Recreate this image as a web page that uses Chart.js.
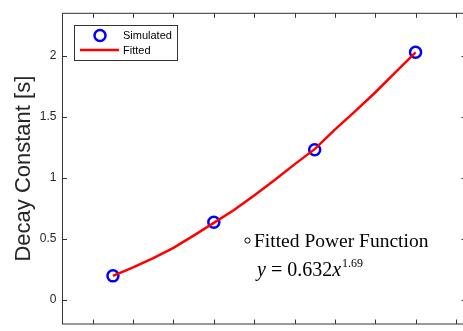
<!DOCTYPE html>
<html>
<head>
<meta charset="utf-8">
<script src="https://cdn.jsdelivr.net/npm/chart.js@4.4.1/dist/chart.umd.min.js"></script>
<style>
html, body { margin: 0; padding: 0; overflow: hidden; background: #fff; }
#wrap { width: 463px; height: 331px; overflow: hidden; }
canvas { display: block; }
</style>
</head>
<body>
<div id="wrap"><canvas id="decayChart" width="474" height="332"></canvas></div>
<script>
// values
const simX = [0.5, 1.0, 1.5, 2.0];
const simY = [0.195, 0.635, 1.23, 2.03];
const fitX = [0.5, 0.6, 0.7, 0.8, 0.9, 1.0, 1.1, 1.2, 1.3, 1.4, 1.5, 1.6, 1.7, 1.8, 1.9, 2.0];
const fitY = [0.195, 0.265, 0.34, 0.425, 0.525, 0.63, 0.735, 0.855, 0.98, 1.11, 1.235, 1.395, 1.545, 1.70, 1.865, 2.03];
const xTickValues = [0.4, 0.6, 0.8, 1.0, 1.2, 1.4, 1.6, 1.8, 2.0, 2.2];
const yTickValues = [0, 0.5, 1, 1.5, 2];
const yTitle = 'Decay Constant [s]';
const legendLabels = ['Simulated', 'Fitted'];
const noteTitle = 'Fitted Power Function';
const fitCoef = '0.632';
const fitExp = '1.69';

const axisColor = '#333333';
const textColor = '#262626';

// MATLAB style box with inward ticks on all four sides
const boxPlugin = {
    id: 'boxPlugin',
    afterDraw(chart) {
        const ctx = chart.ctx;
        const area = chart.chartArea;
        const xs = chart.scales.x;
        const ys = chart.scales.y;
        const len = 4.5;
        ctx.save();
        ctx.strokeStyle = axisColor;
        ctx.lineWidth = 1;
        ctx.strokeRect(area.left, area.top, area.right - area.left, area.bottom - area.top);
        ctx.beginPath();
        xs.ticks.forEach(t => {
            const px = Math.round(xs.getPixelForValue(t.value)) + 0.5;
            ctx.moveTo(px, area.bottom);
            ctx.lineTo(px, area.bottom - len);
            ctx.moveTo(px, area.top);
            ctx.lineTo(px, area.top + len);
        });
        ys.ticks.forEach(t => {
            const py = Math.round(ys.getPixelForValue(t.value)) + 0.5;
            ctx.moveTo(area.left, py);
            ctx.lineTo(area.left + len, py);
            ctx.moveTo(area.right, py);
            ctx.lineTo(area.right - len, py);
        });
        ctx.stroke();
        ctx.restore();
    }
};

const legendPlugin = {
    id: 'legendPlugin',
    afterDraw(chart) {
        const ctx = chart.ctx;
        const sim = chart.data.datasets[1];
        const fit = chart.data.datasets[0];
        ctx.save();
        ctx.fillStyle = '#ffffff';
        ctx.fillRect(74.5, 25.5, 103, 35);
        ctx.strokeStyle = axisColor;
        ctx.lineWidth = 1;
        ctx.strokeRect(74.5, 25.5, 103, 35);

        ctx.strokeStyle = sim.borderColor;
        ctx.lineWidth = sim.borderWidth;
        ctx.beginPath();
        ctx.arc(100, 35.5, 5.5, 0, Math.PI * 2);
        ctx.stroke();

        ctx.strokeStyle = fit.borderColor;
        ctx.lineWidth = fit.borderWidth;
        ctx.beginPath();
        ctx.moveTo(80, 50);
        ctx.lineTo(119, 50);
        ctx.stroke();

        ctx.fillStyle = '#000000';
        ctx.font = '11px "Liberation Sans", Arial, sans-serif';
        ctx.textBaseline = 'middle';
        ctx.textAlign = 'left';
        ctx.fillText(legendLabels[0], 123, 36);
        ctx.fillText(legendLabels[1], 123, 50.5);
        ctx.restore();
    }
};

const notePlugin = {
    id: 'notePlugin',
    afterDraw(chart) {
        const ctx = chart.ctx;
        ctx.save();
        ctx.fillStyle = '#000000';
        ctx.strokeStyle = '#000000';
        ctx.lineWidth = 1;
        ctx.textBaseline = 'alphabetic';
        ctx.textAlign = 'left';

        ctx.beginPath();
        ctx.arc(247.5, 240.5, 2.6, 0, Math.PI * 2);
        ctx.stroke();

        ctx.font = '19.5px "Liberation Serif", "Times New Roman", serif';
        ctx.fillText(noteTitle, 254, 247);

        let x = 257;
        const base = 276;
        ctx.font = 'italic 20px "Liberation Serif", "Times New Roman", serif';
        ctx.fillText('y', x, base);
        x += ctx.measureText('y').width;
        ctx.font = '20px "Liberation Serif", "Times New Roman", serif';
        const mid = ' = ' + fitCoef;
        ctx.fillText(mid, x, base);
        x += ctx.measureText(mid).width;
        ctx.font = 'italic 20px "Liberation Serif", "Times New Roman", serif';
        ctx.fillText('x', x, base);
        x += ctx.measureText('x').width;
        ctx.font = '12px "Liberation Serif", "Times New Roman", serif';
        ctx.fillText(fitExp, x + 1, base - 9);
        ctx.restore();
    }
};

const ctx = document.getElementById('decayChart').getContext('2d');
new Chart(ctx, {
    type: 'scatter',
    data: {
        datasets: [
            {
                label: legendLabels[1],
                data: fitX.map((x, i) => ({ x: x, y: fitY[i] })),
                showLine: true,
                borderColor: '#ff0000',
                backgroundColor: '#ff0000',
                borderWidth: 2.5,
                pointRadius: 0,
                tension: 0,
                order: 0,
            },
            {
                label: legendLabels[0],
                data: simX.map((x, i) => ({ x: x, y: simY[i] })),
                showLine: false,
                borderColor: '#0000ff',
                backgroundColor: 'rgba(0, 0, 0, 0)',
                borderWidth: 2.5,
                pointRadius: 5.5,
                pointHoverRadius: 5.5,
                order: 1,
            },
        ],
    },
    options: {
        responsive: false,
        animation: false,
        devicePixelRatio: 1,
        layout: {
            padding: { left: 0, top: 13.3, right: 1, bottom: 0 },
        },
        plugins: {
            legend: { display: false },
            tooltip: { enabled: false },
        },
        scales: {
            x: {
                type: 'linear',
                min: 0.25,
                max: 2.25,
                grid: { display: false, drawTicks: false },
                border: { display: false },
                ticks: { display: false, includeBounds: false },
                afterBuildTicks: s => { s.ticks = xTickValues.map(v => ({ value: v })); },
                afterFit: s => { s.height = 0; },
            },
            y: {
                type: 'linear',
                min: -0.2,
                max: 2.35,
                grid: { display: false, drawTicks: true, tickLength: 6 },
                border: { display: false },
                ticks: {
                    color: textColor,
                    padding: 0,
                    font: { family: '"Liberation Sans", Arial, sans-serif', size: 12 },
                    callback: v => String(v),
                },
                afterBuildTicks: s => { s.ticks = yTickValues.map(v => ({ value: v })); },
                afterFit: s => { s.width = 62.5; },
                title: {
                    display: true,
                    text: yTitle,
                    color: textColor,
                    font: { family: '"Liberation Sans", Arial, sans-serif', size: 22 },
                    padding: { top: 11, bottom: 0 },
                },
            },
        },
    },
    plugins: [boxPlugin, legendPlugin, notePlugin],
});
</script>
</body>
</html>
